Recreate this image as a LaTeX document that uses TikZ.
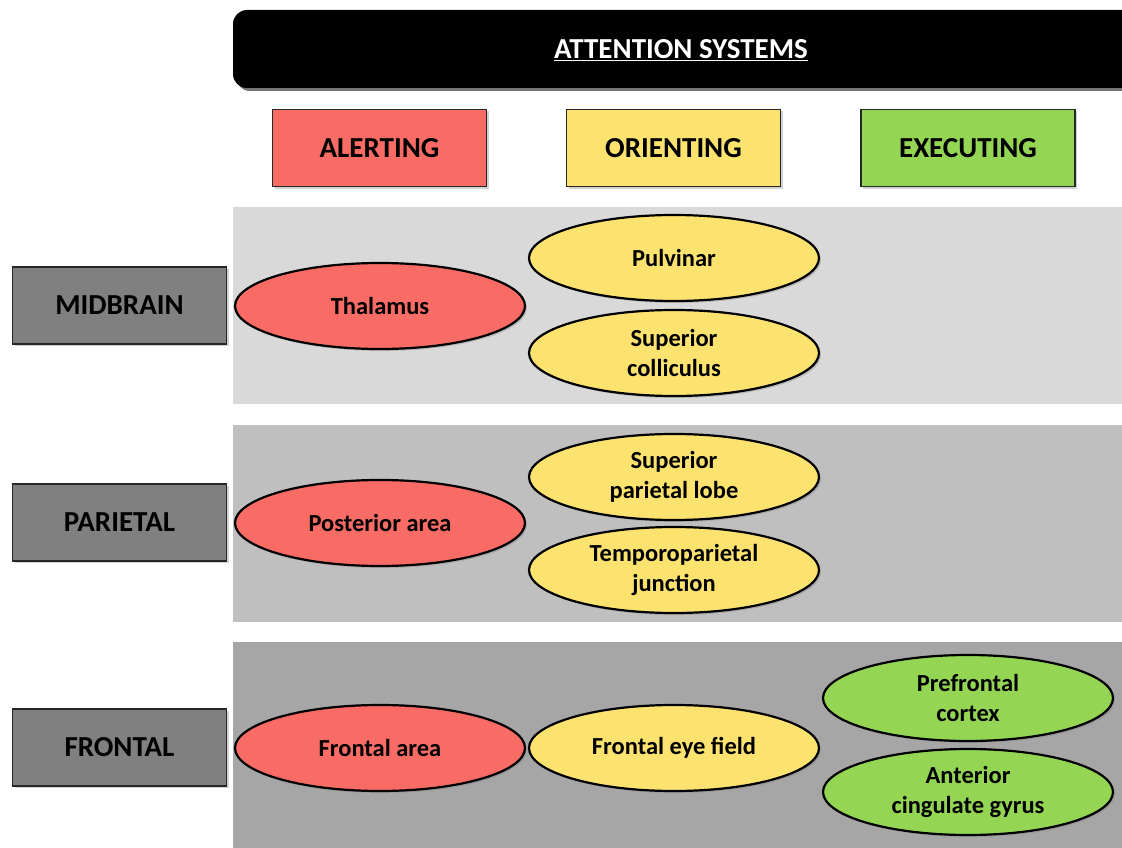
\documentclass[tikz,border=0pt]{standalone}
\usepackage{fontspec}
\setmainfont{Carlito}
\usetikzlibrary{shapes.geometric,shadows}
\definecolor{alertred}{RGB}{249,108,102}
\definecolor{orientyellow}{RGB}{252,227,112}
\definecolor{execgreen}{RGB}{148,214,84}
\definecolor{regiongray}{RGB}{128,128,128}
\definecolor{bandA}{RGB}{217,217,217}
\definecolor{bandB}{RGB}{191,191,191}
\definecolor{bandC}{RGB}{166,166,166}
\tikzset{
  boxshadow/.style={drop shadow={opacity=0.35,shadow xshift=2pt,shadow yshift=-2pt}},
  hdrbox/.style={draw=black!85, line width=1.3pt, minimum width=214pt, minimum height=77pt,
    inner sep=0pt, font=\bfseries\fontsize{29}{34}\selectfont, boxshadow},
  regionbox/.style={hdrbox, fill=regiongray},
  area/.style={ellipse, draw=black, line width=2.2pt, minimum width=290pt, minimum height=86pt,
    inner sep=0pt, align=center, font=\bfseries\fontsize{24.5}{30}\selectfont, boxshadow},
  redarea/.style={area, fill=alertred},
  yellowarea/.style={area, fill=orientyellow},
  greenarea/.style={area, fill=execgreen},
}
\begin{document}
\begin{tikzpicture}[x=1pt,y=-1pt]
\useasboundingbox (0,0) rectangle (1122,848);
\fill[white] (0,0) rectangle (1122,848);

% row bands
\fill[bandA] (233,207) rectangle (1122,404);
\fill[bandB] (233,425) rectangle (1122,622);
\fill[bandC] (233,642) rectangle (1122,848);

% title bar
\begin{scope}
\clip (0,0) rectangle (1122,848);
\fill[black!55, rounded corners=14pt] (236,13) rectangle (1150,91);
\fill[black, rounded corners=14pt] (233,10) rectangle (1150,88);
\end{scope}
\node[text=white, font=\bfseries\fontsize{29}{34}\selectfont] (title) at (681,50) {\underline{ATTENTION SYSTEMS}};

% system headers
\node[hdrbox, fill=alertred] (alert) at (379.5,148) {ALERTING};
\node[hdrbox, fill=orientyellow] (orient) at (673.5,148) {ORIENTING};
\node[hdrbox, fill=execgreen] (exec) at (968,148) {EXECUTING};

% brain regions
\node[regionbox] (mid) at (119.5,305.5) {MIDBRAIN};
\node[regionbox] (par) at (119.5,522.5) {PARIETAL};
\node[regionbox] (fro) at (119.5,747.5) {FRONTAL};

% midbrain structures
\node[redarea] (thal) at (380,306) {Thalamus};
\node[yellowarea] (pulv) at (674,258) {Pulvinar};
\node[yellowarea] (supcol) at (674,353) {Superior\\colliculus};

% parietal structures
\node[redarea] (post) at (380,523) {Posterior area};
\node[yellowarea] (spl) at (674,477) {Superior\\parietal lobe};
\node[yellowarea] (tpj) at (674,570) {Temporoparietal\\junction};

% frontal structures
\node[redarea] (front) at (380,748) {Frontal area};
\node[yellowarea] (fef) at (674,748) {Frontal eye field};
\node[greenarea] (pfc) at (968,698) {Prefrontal\\cortex};
\node[greenarea] (acg) at (968,792) {Anterior\\cingulate gyrus};
\end{tikzpicture}
\end{document}
